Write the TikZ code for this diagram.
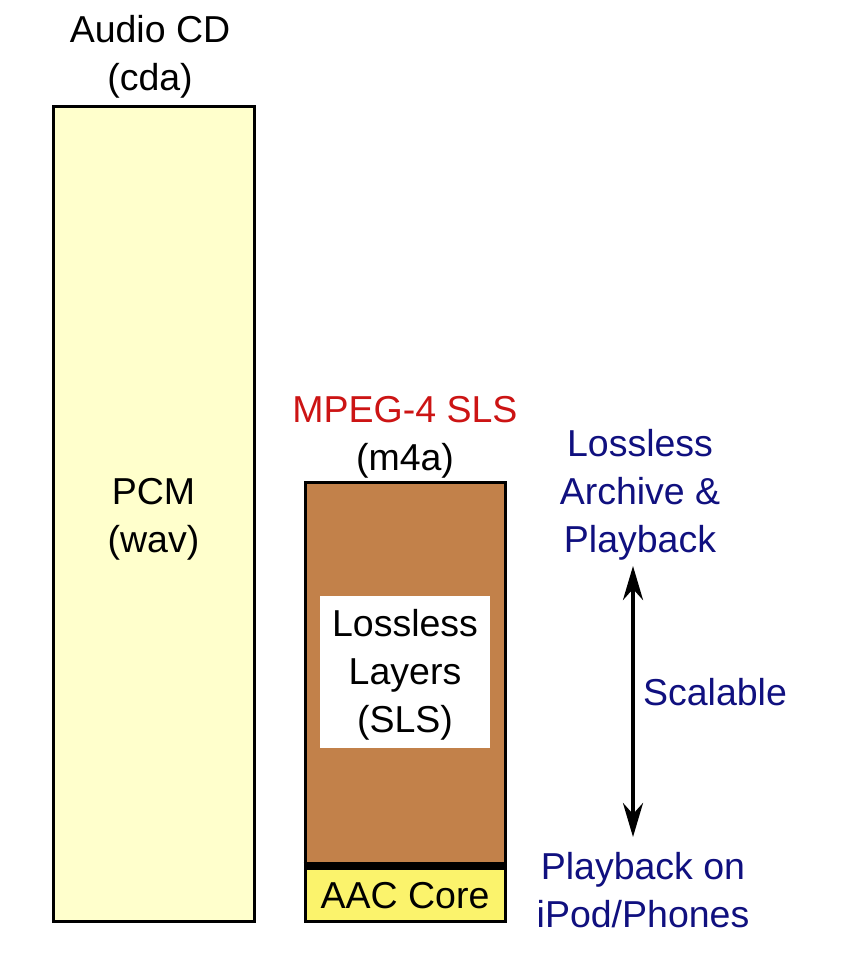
\documentclass[tikz,border=0pt]{standalone}
\usepackage{fontspec}
\setmainfont{Liberation Sans}
\usepackage{tikz}
\usetikzlibrary{positioning, arrows.meta}

\definecolor{pcmyellow}{HTML}{FFFFCC}
\definecolor{slsbrown}{HTML}{C2814A}
\definecolor{aacyellow}{HTML}{FBF36C}
\definecolor{mpegred}{HTML}{CC1414}
\definecolor{notenavy}{HTML}{10107F}

\begin{document}
\begin{tikzpicture}[x=1pt,y=-1pt,
    every node/.style={font=\fontsize{37.5}{48}\selectfont, align=center},
    box/.style={draw, line width=3pt, inner sep=0pt},
    note/.style={text=notenavy}]
                  \useasboundingbox (0,0) rectangle (858,959);
                  % storage boxes
                  \node[box, fill=pcmyellow, minimum width=201pt, minimum height=815pt] (pcm) at (153.5,513.5) {};
                  \node (pcmtext) at (153.5,519) {PCM\\(wav)};
                  \node[box, fill=slsbrown, minimum width=200pt, minimum height=382pt] (sls) at (405,673) {};
                  \node[box, fill=aacyellow, minimum width=200pt, minimum height=57pt] (aac) at (405,892.5) {};
                  \node (aactext) at (405,896) {AAC Core};
                  \draw[line width=8pt] (sls.south west) -- (sls.south east);
                  \node[fill=white, inner sep=0pt, minimum width=170pt, minimum height=152pt] (layers) at (405,672) {};
                  \node (layerstext) at (405,675) {Lossless\\Layers\\(SLS)};
                  % titles
                  \node (cd) at (150,57) {Audio CD\\(cda)};
                  \node (mpeg) at (405,437) {\textcolor{mpegred}{MPEG-4 SLS}\\(m4a)};
                  % side notes
                  \node[note] (archive) at (640,495) {Lossless\\Archive \&\\Playback};
                  \node[note] (scal) at (715,692) {Scalable};
                  \node[note] (ipod) at (643,890) {Playback on\\iPod/Phones};
                  \coordinate (top) at (633,566);
                  \coordinate (bot) at (633,837);
                  \draw[line width=4pt, {Stealth[length=34pt,width=20pt]}-{Stealth[length=34pt,width=20pt]}] (top) -- (bot);
              \end{tikzpicture}
\end{document}
